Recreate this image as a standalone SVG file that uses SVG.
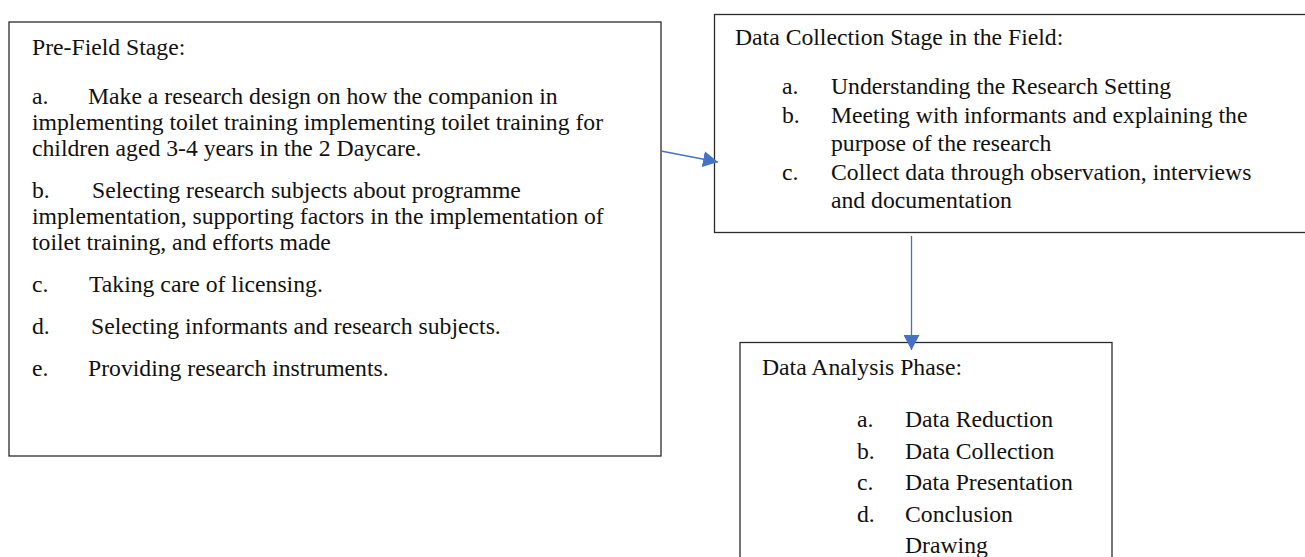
<svg xmlns="http://www.w3.org/2000/svg" width="1305" height="557" viewBox="0 0 1305 557">
<style>
.box{fill:#ffffff;stroke:#2b2b2b;stroke-width:1.3}
text{font-family:"Liberation Serif","Times New Roman",serif;font-size:23.7px;fill:#111111}
.conn{stroke:#4472C4;stroke-width:1.3;fill:none}
</style>
<defs>
<marker id="ah" markerUnits="userSpaceOnUse" markerWidth="16" markerHeight="16" refX="15" refY="8" orient="auto">
<path d="M0,0 L15,8 L0,16 z" fill="#4472C4"/>
</marker>
</defs>
<rect width="1305" height="557" fill="#ffffff"/>
<g id="node-prefield">
<rect class="box" x="9" y="22" width="652" height="434"/>
<text x="32" y="55">Pre-Field Stage:</text>
<text x="32" y="104">a.</text><text x="88" y="104">Make a research design on how the companion in</text>
<text x="32" y="130">implementing toilet training implementing toilet training for</text>
<text x="32" y="156">children aged 3-4 years in the 2 Daycare.</text>
<text x="32" y="198">b.</text><text x="92" y="198">Selecting research subjects about programme</text>
<text x="32" y="224">implementation, supporting factors in the implementation of</text>
<text x="32" y="250">toilet training, and efforts made</text>
<text x="32" y="292">c.</text><text x="89" y="292">Taking care of licensing.</text>
<text x="32" y="334">d.</text><text x="91" y="334">Selecting informants and research subjects.</text>
<text x="32" y="376">e.</text><text x="88" y="376">Providing research instruments.</text>
</g>
<g id="node-datacollection">
<rect class="box" x="714.5" y="14.5" width="600" height="218"/>
<text x="735" y="45">Data Collection Stage in the Field:</text>
<text x="782" y="94">a.</text><text x="831" y="94">Understanding the Research Setting</text>
<text x="782" y="122.5">b.</text><text x="831" y="122.5">Meeting with informants and explaining the</text>
<text x="831" y="151">purpose of the research</text>
<text x="782" y="179.5">c.</text><text x="831" y="179.5">Collect data through observation, interviews</text>
<text x="831" y="208">and documentation</text>
</g>
<g id="node-dataanalysis">
<rect class="box" x="740" y="342.5" width="372" height="240"/>
<text x="762" y="375">Data Analysis Phase:</text>
<text x="857" y="427">a.</text><text x="905" y="427">Data Reduction</text>
<text x="857" y="458.5">b.</text><text x="905" y="458.5">Data Collection</text>
<text x="857" y="490">c.</text><text x="905" y="490">Data Presentation</text>
<text x="857" y="521.5">d.</text><text x="905" y="521.5">Conclusion</text>
<text x="905" y="553">Drawing</text>
</g>
<g id="connectors">
<line class="conn" x1="661" y1="151" x2="718" y2="162" marker-end="url(#ah)"/>
<line class="conn" x1="911.5" y1="236" x2="911.5" y2="350" marker-end="url(#ah)"/>
</g>
</svg>
